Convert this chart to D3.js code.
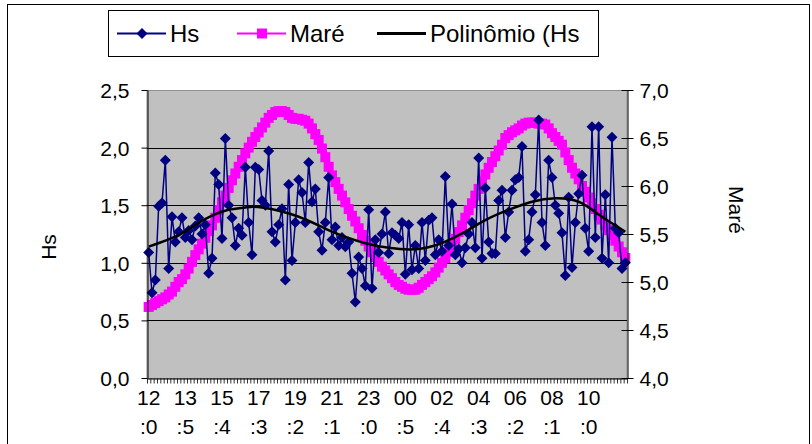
<!DOCTYPE html>
<html>
<head>
<meta charset="utf-8">
<script src="https://cdn.jsdelivr.net/npm/d3@7/dist/d3.min.js"></script>
<style>
  body { margin: 0; background: #fff; }
  text { font-family: "Liberation Sans", Arial, sans-serif; fill: #000; }
</style>
</head>
<body>
<div id="chart"></div>
<script>
// wave height (Hs), one reading every 10 min starting 12:00
const hs = [
  1.09, 0.74, 0.85, 1.49, 1.52, 1.89, 0.95, 1.40, 1.18, 1.27, 1.39, 1.22,
  1.28, 1.20, 1.32, 1.39, 1.25, 1.33, 0.91, 1.04, 1.78, 1.68, 1.21, 2.08,
  1.50, 1.39, 1.15, 1.30, 1.24, 1.83, 1.35, 1.07, 1.83, 1.81, 1.54, 1.50,
  1.97, 1.27, 1.18, 1.33, 1.47, 0.85, 1.68, 1.02, 1.35, 1.72, 1.61, 1.35,
  1.87, 1.53, 1.64, 1.27, 1.11, 1.35, 1.74, 1.20, 1.31, 1.15, 1.22, 1.14,
  1.18, 0.91, 0.66, 1.05, 0.95, 0.80, 1.46, 0.78, 1.20, 1.09, 1.25, 1.44,
  1.08, 1.26, 1.24, 1.21, 1.35, 0.90, 1.33, 0.94, 1.15, 0.95, 1.35, 1.02,
  1.37, 1.39, 1.07, 1.20, 1.10, 1.75, 1.15, 1.51, 1.07, 1.12, 1.00, 1.13,
  1.25, 1.35, 1.13, 1.91, 1.04, 1.65, 1.18, 1.08, 1.08, 1.54, 1.63, 1.22,
  1.44, 1.63, 1.72, 1.74, 2.01, 1.10, 1.20, 1.44, 1.59, 2.24, 1.35, 1.15,
  1.89, 1.74, 1.50, 1.43, 1.26, 0.89, 1.57, 0.96, 1.35, 1.60, 1.76, 1.30,
  1.10, 2.18, 1.22, 2.18, 1.04, 1.59, 1.00, 2.09, 1.30, 1.26, 0.95, 1.00
];

// tide (Maré), same timestamps, right axis
const mare = [
  4.74, 4.76, 4.78, 4.80, 4.82, 4.84, 4.87, 4.90, 4.95, 5.00, 5.03, 5.08,
  5.14, 5.21, 5.28, 5.34, 5.40, 5.46, 5.53, 5.59, 5.67, 5.75, 5.83, 5.90,
  5.98, 6.06, 6.13, 6.20, 6.27, 6.34, 6.40, 6.46, 6.51, 6.56, 6.61, 6.66,
  6.71, 6.74, 6.77, 6.78, 6.78, 6.77, 6.74, 6.71, 6.70, 6.70, 6.69, 6.68,
  6.65, 6.60, 6.54, 6.48, 6.39, 6.30, 6.20, 6.11, 6.04, 5.97, 5.90, 5.83,
  5.76, 5.69, 5.63, 5.56, 5.49, 5.43, 5.37, 5.31, 5.26, 5.21, 5.16, 5.12,
  5.08, 5.04, 5.00, 4.97, 4.95, 4.93, 4.92, 4.92, 4.92, 4.94, 4.97, 5.00,
  5.03, 5.06, 5.10, 5.15, 5.20, 5.25, 5.31, 5.38, 5.45, 5.52, 5.59, 5.67,
  5.75, 5.82, 5.90, 5.97, 6.05, 6.12, 6.19, 6.25, 6.31, 6.37, 6.43, 6.50,
  6.53, 6.56, 6.58, 6.60, 6.63, 6.65, 6.66, 6.66, 6.66, 6.65, 6.65, 6.64,
  6.60, 6.55, 6.51, 6.47, 6.43, 6.35, 6.27, 6.19, 6.13, 6.07, 6.00, 5.94,
  5.88, 5.82, 5.76, 5.70, 5.65, 5.59, 5.54, 5.49, 5.43, 5.37, 5.31, 5.25
];

// polynomial trendline of Hs at a few points
const trendIdx = [0, 9, 14, 19, 24, 29, 34, 45, 55, 65, 72, 81, 91, 101, 108, 115, 122, 129, 135, 143];
const trendVal = [1.14, 1.24, 1.33, 1.41, 1.46, 1.48, 1.48, 1.40, 1.27, 1.17, 1.13, 1.12, 1.21, 1.37, 1.46, 1.53, 1.56, 1.53, 1.42, 1.27];

const tickLabels = ["12:00", "13:50", "15:40", "17:30", "19:20", "21:10", "23:00",
                    "00:50", "02:40", "04:30", "06:20", "08:10", "10:00"];
const tickIdx = [0, 11, 22, 33, 44, 55, 66, 77, 88, 99, 110, 121, 132];
const hsTicks = [0, 0.5, 1, 1.5, 2, 2.5];
const mareTicks = [4, 4.5, 5, 5.5, 6, 6.5, 7];

const width = 812, height = 444;
const pLeft = 147, pRight = 627, pTop = 90, pBottom = 378;
const fmt = d => d3.format(".1f")(d).replace(".", ",");

const svg = d3.select("#chart").append("svg")
  .attr("width", width)
  .attr("height", height);

// chart area border
svg.append("rect")
  .attr("x", 7.5).attr("y", 4.5)
  .attr("width", 802).attr("height", 480)
  .attr("fill", "#fff").attr("stroke", "#000");

const x = d3.scaleBand().domain(d3.range(hs.length)).range([pLeft, pRight]);
const cx = i => x(i) + x.bandwidth() / 2;
const xTicks = d3.scaleLinear().domain([0, hs.length]).range([pLeft, pRight]);
const yL = d3.scaleLinear().domain([0, 2.5]).range([pBottom, pTop]);
const yR = d3.scaleLinear().domain([4, 7]).range([pBottom, pTop]);

// plot area
svg.append("rect")
  .attr("x", pLeft).attr("y", pTop + 0.5)
  .attr("width", pRight - pLeft).attr("height", pBottom - pTop)
  .attr("fill", "#c0c0c0").attr("stroke", "#909090");

svg.append("g")
  .selectAll("line")
  .data(hsTicks.slice(1, -1))
  .join("line")
  .attr("x1", pLeft).attr("x2", pRight)
  .attr("y1", d => Math.round(yL(d)) + 0.5)
  .attr("y2", d => Math.round(yL(d)) + 0.5)
  .attr("stroke", "#000").attr("stroke-width", 1);

// Maré (secondary series, drawn behind)
svg.append("path")
  .datum(mare)
  .attr("fill", "none")
  .attr("stroke", "#ff00ff")
  .attr("stroke-width", 3)
  .attr("d", d3.line().x((d, i) => cx(i)).y(d => yR(d)));

svg.append("g")
  .selectAll("rect")
  .data(mare)
  .join("rect")
  .attr("x", (d, i) => cx(i) - 5)
  .attr("y", d => yR(d) - 5)
  .attr("width", 10).attr("height", 10)
  .attr("fill", "#ff00ff");

// Hs
svg.append("path")
  .datum(hs)
  .attr("fill", "none")
  .attr("stroke", "#000080")
  .attr("stroke-width", 1.5)
  .attr("d", d3.line().x((d, i) => cx(i)).y(d => yL(d)));

const diamond = "M0,-5.5L5.5,0L0,5.5L-5.5,0Z";
svg.append("g")
  .selectAll("path")
  .data(hs)
  .join("path")
  .attr("d", diamond)
  .attr("transform", (d, i) => "translate(" + cx(i) + "," + yL(d) + ")")
  .attr("fill", "#000080");

// trendline
svg.append("path")
  .datum(trendIdx.map((d, k) => [d, trendVal[k]]))
  .attr("fill", "none")
  .attr("stroke", "#000")
  .attr("stroke-width", 2.5)
  .attr("d", d3.line().x(d => cx(d[0])).y(d => yL(d[1])).curve(d3.curveNatural));

// left axis
const axL = svg.append("g")
  .attr("transform", "translate(" + (pLeft + 0.5) + ",0)")
  .call(d3.axisLeft(yL).tickValues(hsTicks).tickFormat(fmt).tickSize(6).tickSizeOuter(0).tickPadding(12));
axL.selectAll("text").style("font-size", "21px").attr("dy", "0.36em");
axL.select(".domain").attr("stroke", "#000");

// right axis, ticks cross the line
const axR = svg.append("g")
  .attr("transform", "translate(" + (pRight + 0.5) + ",0)")
  .call(d3.axisRight(yR).tickValues(mareTicks).tickFormat(fmt).tickSize(6).tickSizeOuter(0).tickPadding(6));
axR.selectAll(".tick line").attr("x1", -6);
axR.selectAll("text").style("font-size", "21px").attr("dy", "0.36em");

// bottom axis: one small tick per category
const axB = svg.append("g")
  .attr("transform", "translate(0," + (pBottom + 0.5) + ")")
  .call(d3.axisBottom(xTicks).tickValues(d3.range(hs.length + 1)).tickFormat("").tickSize(5).tickSizeOuter(0));
axB.selectAll(".tick line").attr("stroke-width", 0.8);

// category labels, wrapped like the original (hour / ":m")
const lab = svg.append("g")
  .selectAll("text")
  .data(tickIdx)
  .join("text")
  .attr("text-anchor", "middle")
  .style("font-size", "21px");
lab.append("tspan")
  .attr("x", d => cx(d))
  .attr("y", 405)
  .text((d, k) => tickLabels[k].slice(0, 2));
lab.append("tspan")
  .attr("x", d => cx(d))
  .attr("y", 434)
  .text((d, k) => tickLabels[k].slice(2, 4));

// axis titles
svg.append("text")
  .attr("transform", "translate(56,247) rotate(-90)")
  .attr("text-anchor", "middle")
  .style("font-size", "21px")
  .text("Hs");
svg.append("text")
  .attr("transform", "translate(729,210) rotate(90)")
  .attr("text-anchor", "middle")
  .style("font-size", "21px")
  .text("Maré");

// legend
const lg = svg.append("g");
lg.append("rect")
  .attr("x", 108.5).attr("y", 10.5)
  .attr("width", 490).attr("height", 46)
  .attr("fill", "#fff").attr("stroke", "#000");

const legendItems = [
  { name: "Hs", color: "#000080", x0: 117, mark: "diamond" },
  { name: "Maré", color: "#ff00ff", x0: 237, mark: "square" },
  { name: "Polinômio (Hs", color: "#000", x0: 377, mark: "none" }
];
legendItems.forEach(it => {
  const cy = 33.5;
  lg.append("line")
    .attr("x1", it.x0).attr("x2", it.x0 + 49)
    .attr("y1", cy).attr("y2", cy)
    .attr("stroke", it.color)
    .attr("stroke-width", it.mark === "none" ? 3 : 2);
  if (it.mark === "diamond") {
    lg.append("path").attr("d", diamond)
      .attr("transform", "translate(" + (it.x0 + 25) + "," + cy + ")")
      .attr("fill", it.color);
  } else if (it.mark === "square") {
    lg.append("rect")
      .attr("x", it.x0 + 20).attr("y", cy - 5)
      .attr("width", 10).attr("height", 10)
      .attr("fill", it.color);
  }
  lg.append("text")
    .attr("x", it.x0 + 53).attr("y", cy + 8)
    .style("font-size", "24px")
    .text(it.name);
});
</script>
</body>
</html>
